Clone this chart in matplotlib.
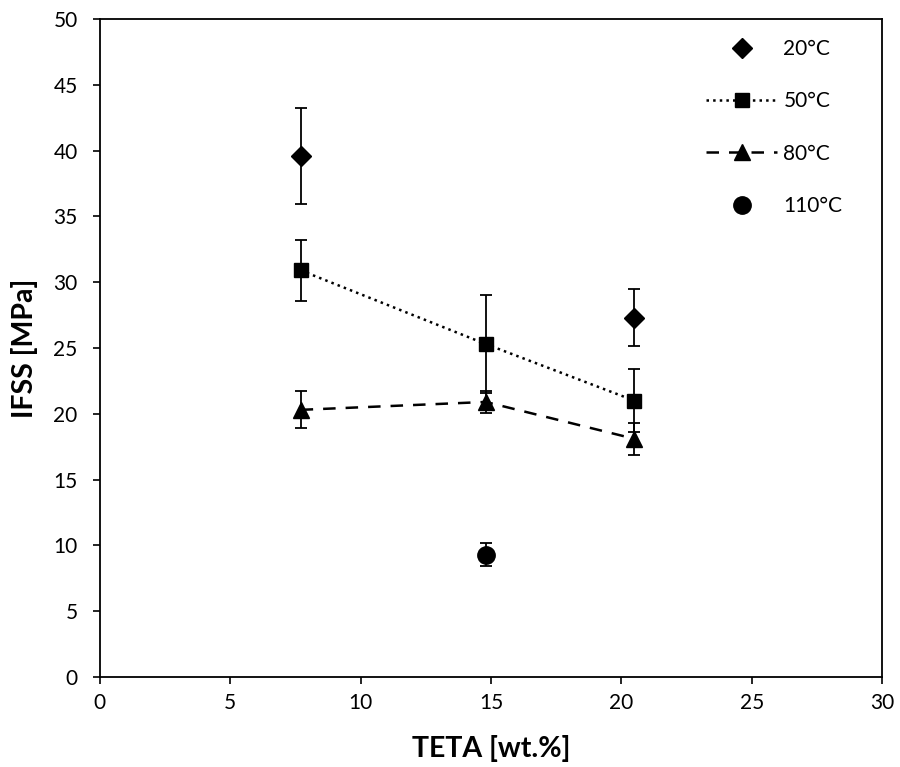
import matplotlib
matplotlib.use("Agg")
import matplotlib.pyplot as plt

plt.rcParams['font.family'] = ['Lato', 'DejaVu Sans']

x20 = [7.7, 20.5]
y20 = [39.6, 27.3]
e20 = [3.65, 2.15]

x50 = [7.7, 14.8, 20.5]
y50 = [30.9, 25.3, 21.0]
e50 = [2.3, 3.7, 2.4]

x80 = [7.7, 14.8, 20.5]
y80 = [20.3, 20.9, 18.1]
e80 = [1.4, 0.85, 1.2]

x110 = [14.8]
y110 = [9.3]
e110 = [0.85]

fig = plt.figure(figsize=(9, 7.67), dpi=100)
ax = fig.add_axes([0.111, 0.1173, 0.869, 0.858])

ekw = dict(ecolor='black', elinewidth=1.3, capsize=4.5, capthick=1.3)
ax.errorbar(x20, y20, yerr=e20, fmt='D', color='black', ms=10.5, label='20°C', **ekw)
ax.errorbar(x50, y50, yerr=e50, fmt='s', ls=':', lw=1.8, color='black', ms=10.5, label='50°C', **ekw)
ax.errorbar(x80, y80, yerr=e80, fmt='^', ls=(0, (5, 4)), lw=1.8, color='black', ms=11, label='80°C', **ekw)
ax.errorbar(x110, y110, yerr=e110, fmt='o', color='black', ms=12.5, label='110°C', **ekw)

ax.set_xlim(0, 30)
ax.set_ylim(0, 50)
ax.set_xticks(range(0, 31, 5))
ax.set_yticks(range(0, 51, 5))
ax.tick_params(direction='out', length=5, width=1.2, labelsize=15)
ax.tick_params(axis='x', pad=6.5)
ax.tick_params(axis='y', pad=11)
for s in ax.spines.values():
    s.set_linewidth(1.3)
ax.set_xlabel('TETA [wt.%]', fontsize=20.5, fontweight='bold', labelpad=16)
ax.set_ylabel('IFSS [MPa]', fontsize=20.5, fontweight='bold', labelpad=11)

handles, labels = ax.get_legend_handles_labels()
handles = [h[0] for h in handles]
ax.legend(handles, labels, loc='upper right', frameon=False, fontsize=15,
          labelspacing=1.55, handlelength=3.4, handletextpad=0.3,
          borderaxespad=0, bbox_to_anchor=(0.96, 0.982))

fig.savefig('out.png', dpi=100)
